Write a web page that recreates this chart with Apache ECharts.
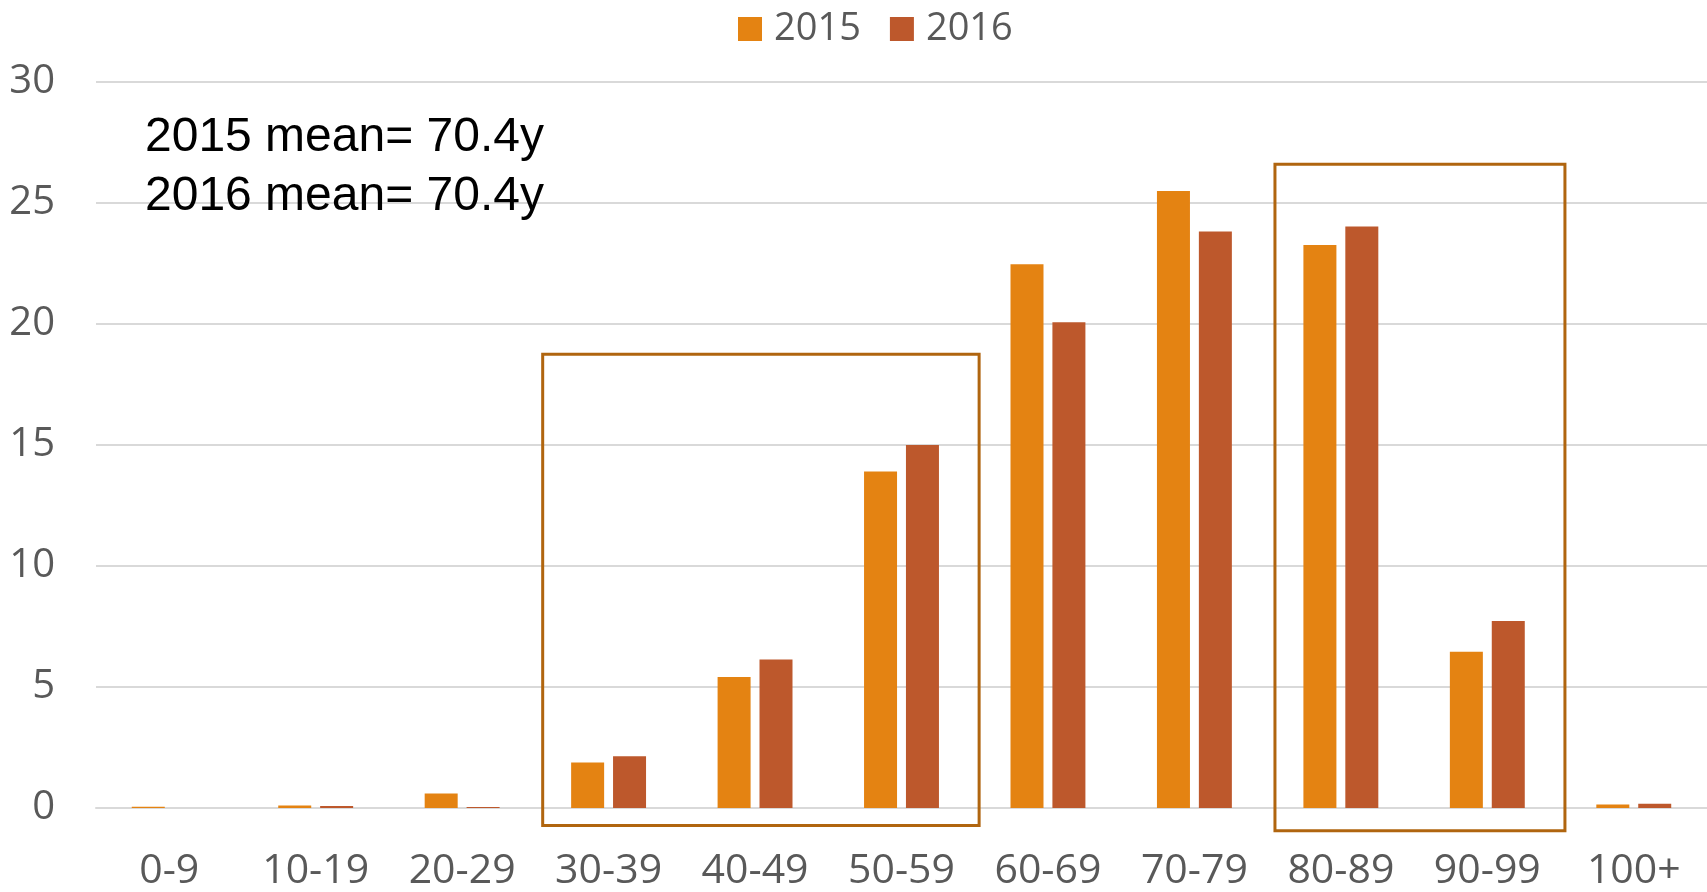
<!DOCTYPE html>
<html>
<head>
<meta charset="utf-8">
<title>Age distribution 2015 / 2016</title>
<script src="https://cdn.jsdelivr.net/npm/echarts@6/dist/echarts.min.js"></script>
<style>
  html, body { margin: 0; padding: 0; background: #fff; }
  #chart { width: 1707px; height: 892px; }
</style>
</head>
<body>
<div id="chart"></div>
<script>
// data
const categories = ["0-9", "10-19", "20-29", "30-39", "40-49", "50-59", "60-69", "70-79", "80-89", "90-99", "100+"];
const values2015 = [0.05, 0.1, 0.6, 1.88, 5.41, 13.9, 22.47, 25.5, 23.26, 6.46, 0.14];
const values2016 = [0, 0.08, 0.04, 2.14, 6.14, 15.0, 20.07, 23.82, 24.03, 7.73, 0.18];
const seriesNames = ["2015", "2016"];
const yMin = 0;
const yMax = 30;
const yStep = 5;
const meanLabels = ["2015 mean= 70.4y", "2016 mean= 70.4y"];

// highlight boxes: category span + value range (they dip a bit below zero)
const boxFrom = ["30-39", "80-89"];
const boxTo = ["50-59", "90-99"];
const boxTop = [18.75, 26.6];
const boxBottom = [-0.72, -0.94];

const axisFont = "'Open Sans', 'Noto Sans', sans-serif";
const textGray = "#595959";

const chart = echarts.init(document.getElementById("chart"));

const option = {
  backgroundColor: "#fff",
  animation: false,
  color: ["#E48312", "#BD582C"],
  legend: {
    data: seriesNames,
    left: 733,
    top: 5,
    itemWidth: 24,
    itemHeight: 24,
    itemGap: 29,
    icon: "rect",
    textStyle: {
      color: textGray,
      fontFamily: axisFont,
      fontSize: 38,
      padding: [0, 0, 0, 7],
    },
  },
  grid: {
    left: 96,
    right: 0,
    top: 82,
    bottom: 82,
    containLabel: false,
  },
  xAxis: {
    type: "category",
    data: categories,
    axisTick: { show: false },
    axisLine: { lineStyle: { color: "#d9d9d9", width: 2 } },
    axisLabel: {
      color: textGray,
      fontFamily: axisFont,
      fontSize: 41,
      margin: 43,
      interval: 0,
    },
  },
  yAxis: {
    type: "value",
    min: yMin,
    max: yMax,
    interval: yStep,
    axisLine: { show: false },
    axisTick: { show: false },
    splitLine: { lineStyle: { color: "#d9d9d9", width: 2 } },
    axisLabel: {
      color: textGray,
      fontFamily: axisFont,
      fontSize: 40,
      margin: 41,
    },
  },
  series: [
    {
      name: seriesNames[0],
      type: "bar",
      data: values2015,
      barWidth: 33,
      barGap: "27%",
    },
    {
      name: seriesNames[1],
      type: "bar",
      data: values2016,
      barWidth: 33,
      barGap: "27%",
    },
  ],
};

chart.setOption(option);

// boxes and mean text are placed through the axes once the grid exists
const drawOverlay = () => {
  const c0 = chart.convertToPixel({ gridIndex: 0 }, [0, 0]);
  const c1 = chart.convertToPixel({ gridIndex: 0 }, [1, 0]);
  const band = c1[0] - c0[0];

  const boxes = boxFrom.map((from, i) => {
    const p1 = chart.convertToPixel({ gridIndex: 0 }, [from, boxTop[i]]);
    const p2 = chart.convertToPixel({ gridIndex: 0 }, [boxTo[i], boxBottom[i]]);
    const x1 = p1[0] - band * 0.45;
    const x2 = p2[0] + band * 0.53;
    return {
      type: "rect",
      z: 100,
      shape: { x: x1, y: p1[1], width: x2 - x1, height: p2[1] - p1[1] },
      style: { fill: null, stroke: "#B0650F", lineWidth: 3 },
    };
  });

  const texts = meanLabels.map((t, i) => ({
    type: "text",
    z: 100,
    left: 145,
    top: 114 + i * 59,
    style: {
      text: t,
      fill: "#000",
      font: "48px 'Liberation Sans', Arial, sans-serif",
    },
  }));

  chart.setOption({ graphic: boxes.concat(texts) });
};

drawOverlay();

window.addEventListener("resize", () => {
  chart.resize();
  drawOverlay();
});
</script>
</body>
</html>
